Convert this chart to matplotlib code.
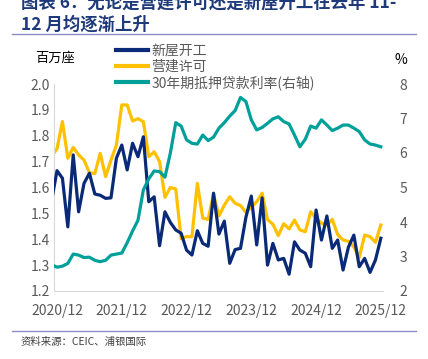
"""
plot.py - US housing starts, building permits and 30y mortgage rate
(2020/11 - 2025/12), redrawn from the research chart.
"""

import matplotlib
matplotlib.use("Agg")
import matplotlib.pyplot as plt
from matplotlib.lines import Line2D

plt.rcParams["font.family"] = ["Noto Sans CJK SC", "DejaVu Sans"]

# monthly, 2020/11 .. 2025/12
STARTS = [
    1.550, 1.665, 1.636, 1.448, 1.726, 1.506, 1.616, 1.655, 1.575, 1.570,
    1.558, 1.560, 1.713, 1.764, 1.668, 1.771, 1.719, 1.796, 1.545, 1.564,
    1.375, 1.506, 1.465, 1.436, 1.423, 1.358, 1.339, 1.433, 1.384, 1.373,
    1.578, 1.420, 1.470, 1.307, 1.360, 1.365, 1.485, 1.567, 1.378, 1.560,
    1.300, 1.384, 1.320, 1.326, 1.265, 1.390, 1.358, 1.346, 1.294, 1.513,
    1.397, 1.490, 1.365, 1.397, 1.281, 1.370, 1.416, 1.294, 1.326, 1.272,
    1.320, 1.404,
]
PERMITS = [
    1.720, 1.750, 1.855, 1.713, 1.755, 1.726, 1.706, 1.657, 1.654, 1.732,
    1.642, 1.706, 1.764, 1.919, 1.919, 1.857, 1.866, 1.854, 1.719, 1.738,
    1.700, 1.562, 1.600, 1.594, 1.402, 1.410, 1.410, 1.616, 1.482, 1.477,
    1.574, 1.490, 1.532, 1.564, 1.539, 1.530, 1.504, 1.524, 1.545, 1.578,
    1.476, 1.458, 1.414, 1.460, 1.440, 1.474, 1.436, 1.429, 1.506, 1.481,
    1.462, 1.455, 1.477, 1.418, 1.397, 1.392, 1.370, 1.330, 1.416, 1.410,
    1.388, 1.455,
]
MORTGAGE = [
    2.76, 2.69, 2.72, 2.80, 3.07, 3.04, 2.97, 2.98, 2.89, 2.85,
    2.89, 3.04, 3.07, 3.10, 3.40, 3.74, 4.05, 4.93, 5.25, 5.48,
    5.46, 5.30, 6.00, 6.88, 6.78, 6.38, 6.28, 6.26, 6.52, 6.36,
    6.46, 6.72, 6.88, 7.07, 7.23, 7.61, 7.49, 6.96, 6.67, 6.74,
    6.86, 6.99, 7.05, 6.91, 6.84, 6.52, 6.18, 6.40, 6.78, 6.72,
    6.96, 6.81, 6.65, 6.72, 6.81, 6.81, 6.72, 6.62, 6.38, 6.26,
    6.23, 6.18,
]
TICK_POS = [1, 13, 25, 37, 49, 61]
TICK_LABELS = ["2020/12", "2021/12", "2022/12", "2023/12", "2024/12", "2025/12"]
LEGEND_LABELS = ["新屋开工", "营建许可", "30年期抵押贷款利率(右轴)"]

NAVY = "#0A2A78"
GOLD = "#FFC000"
TEAL = "#00A09A"
GRIS = "#595959"
W, H = 428, 359


def main():
    fig = plt.figure(figsize=(W / 100, H / 100), dpi=100)
    ax = fig.add_axes([54 / W, 1 - 291 / H, (383 - 54) / W, (291 - 84) / H])
    ax2 = ax.twinx()

    x = list(range(len(STARTS)))
    ax.plot(x, STARTS, color=NAVY, lw=2.3, zorder=3)
    ax.plot(x, PERMITS, color=GOLD, lw=2.3, zorder=2)
    ax2.plot(x, MORTGAGE, color=TEAL, lw=2.3)

    ax.set_xlim(0.44, 61.4)
    ax.set_ylim(1.2, 2.0)
    ax.set_yticks([1.2, 1.3, 1.4, 1.5, 1.6, 1.7, 1.8, 1.9, 2.0])
    ax.set_yticklabels([f"{v:.1f}" for v in ax.get_yticks()])
    ax2.set_ylim(2, 8)
    ax2.set_yticks(range(2, 9))
    ax.set_xticks(TICK_POS)
    ax.set_xticklabels(TICK_LABELS)

    ax.tick_params(axis="y", length=0, pad=3, labelsize=10, labelcolor=GRIS)
    ax.tick_params(axis="x", length=0, pad=9, labelsize=10, labelcolor=GRIS)
    ax2.tick_params(axis="y", length=0, pad=12, labelsize=10, labelcolor=GRIS)

    for a in (ax, ax2):
        for s in ("top", "right"):
            a.spines[s].set_visible(False)
        a.spines["left"].set_visible(False)
        a.spines["bottom"].set_visible(False)
    ax.spines["left"].set_visible(True)
    ax.spines["bottom"].set_visible(True)
    ax.spines["left"].set_color("#D9D9D9")
    ax.spines["bottom"].set_color("#D9D9D9")

    # legend (left-axis lines + right-axis line)
    handles = [Line2D([], [], color=c, lw=3) for c in (NAVY, GOLD, TEAL)]
    leg = fig.legend(handles, LEGEND_LABELS, loc="upper left",
                     bbox_to_anchor=(116 / W, 1 - 44 / H), frameon=False,
                     fontsize=10, handlelength=2.3, handletextpad=0.25,
                     labelspacing=0.12, borderpad=0, borderaxespad=0)
    for t in leg.get_texts():
        t.set_color(GRIS)

    fig.text(35 / W, 1 - 58 / H, "百万座", fontsize=9.5, va="center", color="black")
    fig.text(401 / W, 1 - 60 / H, "%", fontsize=10, va="center", ha="center", color="black")

    # title (first line is cut at the top edge, as in the source)
    fig.text(21 / W, 1 - 3 / H, "图表 6：无论是营建许可还是新屋开工在去年 11-",
             fontsize=12.5, fontweight="bold", color="#1F3A7A", va="center")
    fig.text(21 / W, 1 - 25 / H, "12 月均逐渐上升",
             fontsize=12.5, fontweight="bold", color="#1F3A7A", va="center")
    fig.add_artist(Line2D([12 / W, 416 / W], [1 - 34 / H, 1 - 34 / H],
                          color="#8C8CC8", lw=1))
    fig.add_artist(Line2D([12 / W, 416 / W], [1 - 331 / H, 1 - 331 / H],
                          color="#8C8CC8", lw=1))
    fig.text(21 / W, 1 - 342 / H, "资料来源：CEIC、浦银国际", fontsize=7.5,
             color="#404040", va="center")

    fig.savefig("out.png", dpi=100)
    plt.close(fig)


if __name__ == "__main__":
    main()
